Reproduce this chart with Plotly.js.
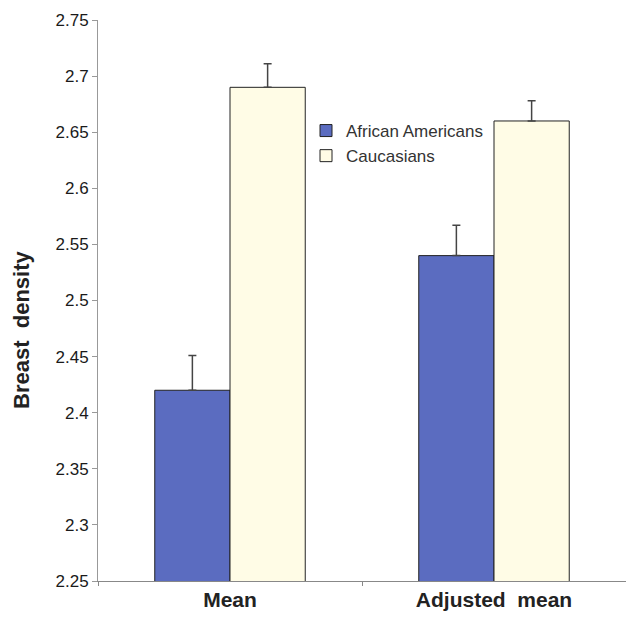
<!DOCTYPE html>
<html>
<head>
<meta charset="utf-8">
<script src="https://cdn.plot.ly/plotly-3.0.1.min.js"></script>
<style>html,body{margin:0;padding:0;background:#fff;}#chart{width:626px;height:623px;}</style>
</head>
<body>
<div id="chart"></div>
<script>
const categories = ["Mean", "Adjusted  mean"];
const africanAmericans = [2.42, 2.54];
const africanAmericansErr = [0.031, 0.027];
const caucasians = [2.69, 2.66];
const caucasiansErr = [0.021, 0.018];
const yTicks = [2.25, 2.3, 2.35, 2.4, 2.45, 2.5, 2.55, 2.6, 2.65, 2.7, 2.75];
const yTickLabels = ["2.25", "2.3", "2.35", "2.4", "2.45", "2.5", "2.55", "2.6", "2.65", "2.7", "2.75"];
const yTitle = "Breast  density";

const errStyle = {type: "data", symmetric: false, arrayminus: [0, 0], color: "#444", thickness: 1.5, width: 4};

const traces = [
  {
    type: "bar", name: "African Americans", x: categories, y: africanAmericans,
    marker: {color: "#5b6cc0", line: {color: "#222", width: 1}},
    error_y: Object.assign({}, errStyle, {array: africanAmericansErr})
  },
  {
    type: "bar", name: "Caucasians", x: categories, y: caucasians,
    marker: {color: "#fffce6", line: {color: "#222", width: 1}},
    error_y: Object.assign({}, errStyle, {array: caucasiansErr})
  }
];

const layout = {
  width: 626, height: 623,
  margin: {l: 98, r: 0, t: 20, b: 42},
  paper_bgcolor: "#fff", plot_bgcolor: "#fff",
  font: {family: "Liberation Sans, Arial, sans-serif", color: "#222"},
  barmode: "group",
  bargap: 0.43,
  bargroupgap: 0,
  showlegend: true,
  legend: {
    x: (306 - 98) / 528, y: 1 - (113 - 20) / 561,
    xanchor: "left", yanchor: "top",
    font: {size: 17, color: "#333"},
    bgcolor: "rgba(0,0,0,0)",
    itemwidth: 30
  },
  xaxis: {
    type: "category",
    range: [-0.5, 1.5],
    showline: true, linecolor: "#888", linewidth: 1,
    ticks: "outside", tickson: "boundaries", ticklen: 4, tickcolor: "#888",
    tickfont: {size: 21, color: "#222", family: "Liberation Sans, Arial, sans-serif", weight: "bold"},
    showgrid: false, zeroline: false, fixedrange: true
  },
  yaxis: {
    range: [2.25, 2.75],
    tickvals: yTicks, ticktext: yTickLabels,
    showline: true, linecolor: "#999", linewidth: 1,
    ticks: "outside", ticklen: 5, tickcolor: "#999",
    tickfont: {size: 17, color: "#1a1a1a"},
    showgrid: false, zeroline: false
  },
  annotations: [{
    text: yTitle, textangle: -90,
    xref: "paper", yref: "paper",
    x: (21 - 98) / 528, y: 1 - (330 - 20) / 561,
    xanchor: "center", yanchor: "middle",
    showarrow: false,
    font: {size: 22, color: "#222", weight: "bold"}
  }]
};

Plotly.newPlot("chart", traces, layout, {displayModeBar: false, staticPlot: true});
</script>
</body>
</html>
